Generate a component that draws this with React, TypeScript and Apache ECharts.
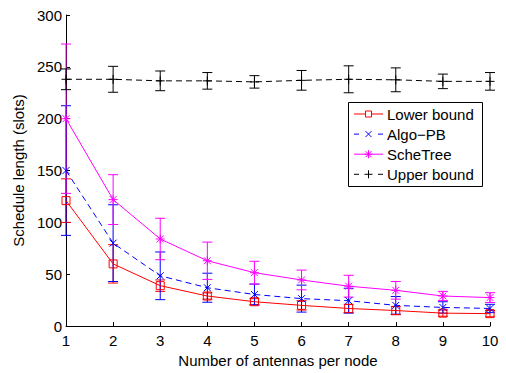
import React, { useEffect, useRef } from "react";
import * as echarts from "echarts";

const antennas = [1, 2, 3, 4, 5, 6, 7, 8, 9, 10];
const lowerBound = [121, 60, 39, 29, 23.5, 20, 17, 15, 12.5, 12];
const lowerBoundErr = [21, 18.5, 5.5, 3, 3, 4.5, 4, 4, 3, 3];
const algoPB = [150, 80, 48.5, 37, 30.5, 26.5, 24.5, 20, 18, 17];
const algoPBErr = [62.5, 37, 23, 14, 10, 13, 12, 8.5, 5.5, 4];
const scheTree = [200, 122, 84, 63, 51.5, 44.5, 38.5, 34.5, 29, 27.5];
const scheTreeErr = [72, 24, 20, 18, 11, 9.5, 10.5, 8.5, 4.5, 4.7];
const upperBound = [238, 238, 236.5, 236.5, 235.5, 237, 238, 237.5, 236, 236];
const upperBoundErr = [10, 12.5, 9.5, 8, 6, 9.5, 13, 11.5, 7, 8.5];

const seriesNames = ["Lower bound", "Algo\u2212PB", "ScheTree", "Upper bound"];
const seriesColors = ["#ff0000", "#0000ff", "#ff00ff", "#000000"];
const seriesMarkers = ["square", "x", "star", "plus"];
const seriesDashed = [false, true, false, true];

const FONT = "'Liberation Sans', Arial, Helvetica, sans-serif";

const SQ_PATH = "path://M0,0L10,0L10,10L0,10Z";
const X_PATH = "path://M0,0L10,10M0,10L10,0";
const STAR_PATH = "path://M0,0L10,10M0,10L10,0M5,-1.5L5,11.5M-1.5,5L11.5,5";
const PLUS_PATH = "path://M5,0L5,10M0,5L10,5";

function errSeries(name: string, vals: number[], errs: number[], color: string) {
  return {
    type: "custom",
    name: name + " err",
    data: antennas.map((x, i) => [x, vals[i] - errs[i], vals[i] + errs[i]]),
    renderItem: (params: any, api: any) => {
      const x = api.value(0);
      const lo = api.coord([x, api.value(1)]);
      const hi = api.coord([x, api.value(2)]);
      const hw = 5;
      const style = { stroke: color, lineWidth: 1, fill: "none" };
      return {
        type: "group",
        children: [
          { type: "line", shape: { x1: lo[0], y1: lo[1], x2: hi[0], y2: hi[1] }, style },
          { type: "line", shape: { x1: lo[0] - hw, y1: lo[1], x2: lo[0] + hw, y2: lo[1] }, style },
          { type: "line", shape: { x1: hi[0] - hw, y1: hi[1], x2: hi[0] + hw, y2: hi[1] }, style },
        ],
      };
    },
    silent: true,
    z: 2,
  };
}

function lineSeries(
  name: string,
  vals: number[],
  color: string,
  symbol: string,
  size: number,
  dashed: boolean
) {
  return {
    type: "line",
    name,
    data: antennas.map((x, i) => [x, vals[i]]),
    symbol,
    symbolSize: size,
    showAllSymbol: true,
    lineStyle: { color, width: 1, type: dashed ? [6, 4] : "solid" },
    itemStyle: { color: "rgba(0,0,0,0)", borderColor: color, borderWidth: 1 },
    z: 3,
  };
}

function markerShapes(kind: string, cx: number, cy: number, color: string) {
  const st = { stroke: color, lineWidth: 1, fill: "none" };
  const ln = (x1: number, y1: number, x2: number, y2: number) => ({
    type: "line",
    shape: { x1, y1, x2, y2 },
    style: st,
  });
  if (kind === "square") {
    return [{ type: "rect", shape: { x: cx - 3, y: cy - 3, width: 6, height: 6 }, style: { ...st, fill: "#fff" } }];
  }
  if (kind === "x") {
    return [ln(cx - 3, cy - 3, cx + 3, cy + 3), ln(cx - 3, cy + 3, cx + 3, cy - 3)];
  }
  if (kind === "star") {
    return [
      ln(cx - 3, cy - 3, cx + 3, cy + 3),
      ln(cx - 3, cy + 3, cx + 3, cy - 3),
      ln(cx, cy - 4, cx, cy + 4),
      ln(cx - 4, cy, cx + 4, cy),
    ];
  }
  return [ln(cx, cy - 4, cx, cy + 4), ln(cx - 4, cy, cx + 4, cy)];
}

function buildLegend() {
  const left = 348.5;
  const top = 102.5;
  const children: any[] = [
    {
      type: "rect",
      shape: { x: left, y: top, width: 134, height: 84 },
      style: { fill: "#fff", stroke: "#000", lineWidth: 1 },
    },
  ];
  seriesNames.forEach((name, i) => {
    const cy = 114 + i * 20.1;
    const color = seriesColors[i];
    const st = { stroke: color, lineWidth: 1 };
    if (seriesDashed[i]) {
      children.push({ type: "line", shape: { x1: 354, y1: cy, x2: 359, y2: cy }, style: st });
      children.push({ type: "line", shape: { x1: 378, y1: cy, x2: 383, y2: cy }, style: st });
    } else {
      children.push({ type: "line", shape: { x1: 354, y1: cy, x2: 383, y2: cy }, style: st });
    }
    markerShapes(seriesMarkers[i], 368.5, cy, color).forEach((m) => children.push(m));
    children.push({
      type: "text",
      x: 387,
      y: cy,
      style: {
        text: name,
        fill: "#000",
        font: `15px ${FONT}`,
        textVerticalAlign: "middle",
        verticalAlign: "middle",
      },
    });
  });
  return [{ type: "group", z: 100, children }];
}

export default function App() {
  const ref = useRef<HTMLDivElement>(null);
  useEffect(() => {
    if (!ref.current) return;
    const chart = echarts.init(ref.current, undefined, { renderer: "svg" });
    const markerSym: Record<string, [string, number]> = {
      square: [SQ_PATH, 8],
      x: [X_PATH, 7],
      star: [STAR_PATH, 9],
      plus: [PLUS_PATH, 9],
    };
    const vals = [lowerBound, algoPB, scheTree, upperBound];
    const errs = [lowerBoundErr, algoPBErr, scheTreeErr, upperBoundErr];
    const series: any[] = [];
    seriesNames.forEach((name, i) => {
      series.push(errSeries(name, vals[i], errs[i], seriesColors[i]));
      const [sym, size] = markerSym[seriesMarkers[i]];
      series.push(lineSeries(name, vals[i], seriesColors[i], sym, size, seriesDashed[i]));
    });
    chart.setOption({
      animation: false,
      backgroundColor: "#fff",
      textStyle: { fontFamily: FONT },
      grid: { left: 66, right: 16, top: 15, bottom: 39, containLabel: false },
      xAxis: {
        type: "value",
        min: 1,
        max: 10,
        interval: 1,
        name: "Number of antennas per node",
        nameLocation: "middle",
        nameGap: 26,
        nameTextStyle: { color: "#000", fontSize: 15, fontFamily: FONT },
        axisLine: { lineStyle: { color: "#000", width: 1 } },
        axisTick: { inside: true, length: 4, lineStyle: { color: "#000" } },
        axisLabel: { color: "#000", fontSize: 15, margin: 7, fontFamily: FONT },
        splitLine: { show: false },
      },
      yAxis: {
        type: "value",
        min: 0,
        max: 300,
        interval: 50,
        name: "Schedule length (slots)",
        nameLocation: "middle",
        nameGap: 31,
        nameTextStyle: { color: "#000", fontSize: 15, fontFamily: FONT },
        axisLine: { show: true, lineStyle: { color: "#000", width: 1 } },
        axisTick: { show: true, inside: true, length: 4, lineStyle: { color: "#000" } },
        axisLabel: { color: "#000", fontSize: 15, margin: 4, fontFamily: FONT },
        splitLine: { show: false },
      },
      graphic: buildLegend(),
      series,
    });
    return () => chart.dispose();
  }, []);
  return (
    <div
      ref={ref}
      style={{ position: "fixed", left: 0, top: 0, width: 506, height: 373, background: "#fff" }}
    />
  );
}
